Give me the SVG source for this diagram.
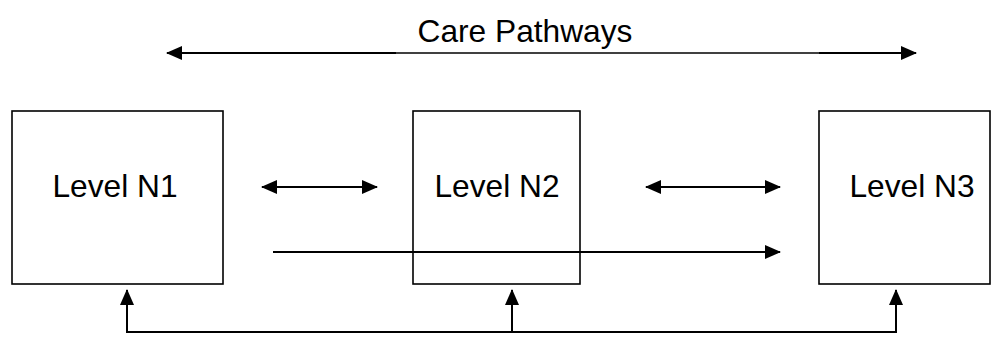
<svg xmlns="http://www.w3.org/2000/svg" width="1002" height="363" viewBox="0 0 1002 363">
<defs>
<style>
.box{fill:#fff;stroke:#000;stroke-width:1.6}
.lbl{font-family:"Liberation Sans",Arial,sans-serif;font-size:31.7px;fill:#000;text-anchor:middle}
.ln{fill:none;stroke:#000;stroke-width:2}
.thin{fill:none;stroke:#000;stroke-width:1.5}
</style>
<marker id="ah" viewBox="0 0 16 14" refX="15" refY="7" markerWidth="16" markerHeight="14" markerUnits="userSpaceOnUse" orient="auto-start-reverse">
<path d="M0,0 L16,7 L0,14 Z" fill="#000"/>
</marker>
</defs>
<rect width="1002" height="363" fill="#fff"/>
<text class="lbl" x="525" y="42">Care Pathways</text>
<g id="n1"><rect class="box" x="12" y="111" width="211" height="173"/><text class="lbl" x="115" y="197">Level N1</text></g>
<g id="n2"><rect class="box" x="413" y="111" width="167" height="173"/><text class="lbl" x="497" y="197">Level N2</text></g>
<g id="n3"><rect class="box" x="819" y="111" width="171" height="173"/><text class="lbl" x="912" y="197">Level N3</text></g>
<g id="connectors">
<line class="ln" x1="167" y1="53" x2="396" y2="53" marker-start="url(#ah)"/>
<line class="thin" x1="396" y1="53" x2="819" y2="53"/>
<line class="ln" x1="819" y1="53" x2="916" y2="53" marker-end="url(#ah)"/>
<line class="ln" x1="262" y1="187" x2="377" y2="187" marker-start="url(#ah)" marker-end="url(#ah)"/>
<line class="ln" x1="646" y1="187" x2="780" y2="187" marker-start="url(#ah)" marker-end="url(#ah)"/>
<line class="ln" x1="273" y1="252" x2="780" y2="252" marker-end="url(#ah)"/>
<path class="ln" d="M127,304 V332 H896 V304"/>
<line class="ln" x1="127" y1="332" x2="127" y2="290" marker-end="url(#ah)"/>
<line class="ln" x1="512" y1="332" x2="512" y2="290" marker-end="url(#ah)"/>
<line class="ln" x1="896" y1="332" x2="896" y2="290" marker-end="url(#ah)"/>
</g>
</svg>
